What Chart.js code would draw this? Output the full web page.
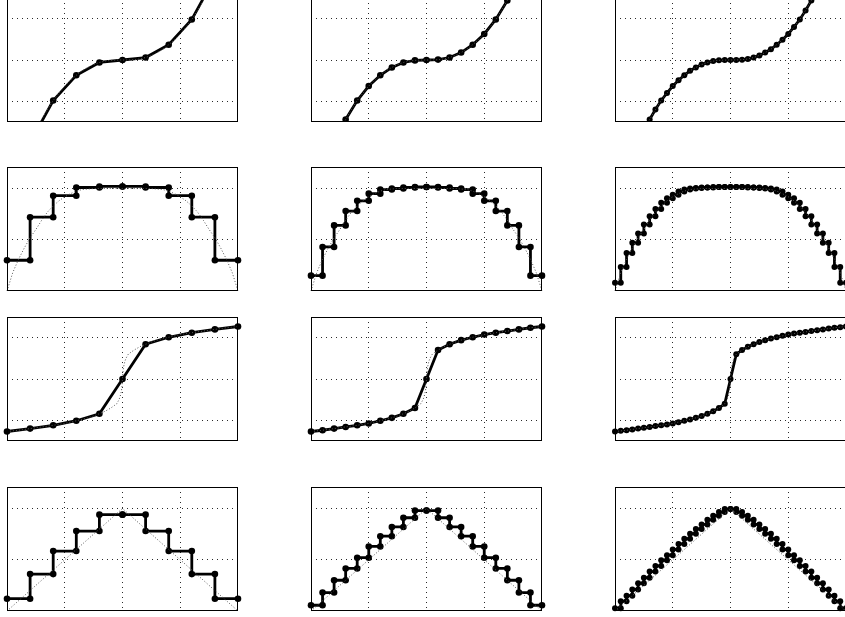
<!DOCTYPE html>
<html>
<head>
<meta charset="utf-8">
<script src="https://cdn.jsdelivr.net/npm/chart.js@4.4.1/dist/chart.umd.min.js"></script>
<style>
  html, body { margin: 0; padding: 0; background: #fff; overflow: hidden; }
  body { width: 845px; height: 617px; position: relative; }
  canvas { position: absolute; }
</style>
</head>
<body>
<script>
// ── Sample positions per column (11, 21 and 41 samples on [-1, 1]) ──
const X_C1 = [-1, -0.8, -0.6, -0.4, -0.2, 0, 0.2, 0.4, 0.6, 0.8, 1];
const X_C2 = [-1, -0.9, -0.8, -0.7, -0.6, -0.5, -0.4, -0.3, -0.2, -0.1, 0,
              0.1, 0.2, 0.3, 0.4, 0.5, 0.6, 0.7, 0.8, 0.9, 1];
const X_C3 = [-1, -0.95, -0.9, -0.85, -0.8, -0.75, -0.7, -0.65, -0.6, -0.55, -0.5,
              -0.45, -0.4, -0.35, -0.3, -0.25, -0.2, -0.15, -0.1, -0.05, 0,
              0.05, 0.1, 0.15, 0.2, 0.25, 0.3, 0.35, 0.4, 0.45, 0.5,
              0.55, 0.6, 0.65, 0.7, 0.75, 0.8, 0.85, 0.9, 0.95, 1];

// ── Row 1: expander curve (values beyond ±1.5 run off the axes) ──
const EXP_C1 = [-4.0, -2.0, -0.98, -0.37, -0.06, 0, 0.06, 0.37, 0.98, 2.0, 4.0];
const EXP_C2 = [-4.0, -2.8, -2.0, -1.44, -0.98, -0.63, -0.37, -0.18, -0.06, -0.01, 0,
                0.01, 0.06, 0.18, 0.37, 0.63, 0.98, 1.44, 2.0, 2.8, 4.0];
const EXP_C3 = [-4.0, -3.35, -2.8, -2.38, -2.0, -1.71, -1.44, -1.2, -0.98, -0.8, -0.63,
                -0.49, -0.37, -0.26, -0.18, -0.11, -0.06, -0.025, -0.008, -0.001, 0,
                0.001, 0.008, 0.025, 0.06, 0.11, 0.18, 0.26, 0.37, 0.49, 0.63,
                0.8, 0.98, 1.2, 1.44, 1.71, 2.0, 2.38, 2.8, 3.35, 4.0];

// ── Row 2: quantized arch, one level per interval ──
const SEMI_C1 = [0.30, 0.72, 0.93, 1.01, 1.02, 1.02, 1.01, 0.93, 0.72, 0.30];
const SEMI_C2 = [0.15, 0.43, 0.64, 0.78, 0.88, 0.95, 0.99, 1.0, 1.01, 1.015,
                 1.015, 1.01, 1.0, 0.99, 0.95, 0.88, 0.78, 0.64, 0.43, 0.15];
const SEMI_C3 = [0.08, 0.235, 0.37, 0.47, 0.56, 0.65, 0.73, 0.80, 0.86, 0.905,
                 0.94, 0.97, 0.99, 1.0, 1.005, 1.01, 1.01, 1.015, 1.015, 1.015,
                 1.015, 1.015, 1.015, 1.01, 1.01, 1.005, 1.0, 0.99, 0.97, 0.94,
                 0.905, 0.86, 0.80, 0.73, 0.65, 0.56, 0.47, 0.37, 0.235, 0.08];
const SEMI_REF = [0, 0.18, 0.31, 0.42, 0.52, 0.60, 0.69, 0.77, 0.83, 0.88, 0.92, 0.95, 0.975, 0.99, 0.995,
                  1, 1, 1, 1, 1, 1, 1, 1, 1, 1, 1,
                  0.995, 0.99, 0.975, 0.95, 0.92, 0.88, 0.83, 0.77, 0.69, 0.60, 0.52, 0.42, 0.31, 0.18, 0];

// ── Row 3: compressor curve ──
const COMP_C1 = [-1.27, -1.20, -1.12, -1.01, -0.84, 0, 0.84, 1.01, 1.12, 1.20, 1.27];
const COMP_C2 = [-1.27, -1.24, -1.20, -1.16, -1.12, -1.075, -1.01, -0.94, -0.84, -0.70, 0,
                 0.70, 0.84, 0.94, 1.01, 1.075, 1.12, 1.16, 1.20, 1.24, 1.27];
const COMP_C3 = [-1.27, -1.255, -1.24, -1.22, -1.20, -1.18, -1.16, -1.14, -1.12, -1.10, -1.075,
                 -1.045, -1.01, -0.98, -0.94, -0.895, -0.84, -0.78, -0.70, -0.60, 0,
                 0.60, 0.70, 0.78, 0.84, 0.895, 0.94, 0.98, 1.01, 1.045, 1.075,
                 1.10, 1.12, 1.14, 1.16, 1.18, 1.20, 1.22, 1.24, 1.255, 1.27];
const COMP_REF_X = [-1, -0.9, -0.8, -0.7, -0.6, -0.5, -0.4, -0.3, -0.25, -0.2, -0.15, -0.1,
                    -0.075, -0.05, -0.03, -0.02, -0.01, -0.005, 0, 0.005, 0.01, 0.02, 0.03, 0.05, 0.075,
                    0.1, 0.15, 0.2, 0.25, 0.3, 0.4, 0.5, 0.6, 0.7, 0.8, 0.9, 1];
const COMP_REF_Y = [-1.27, -1.24, -1.20, -1.16, -1.12, -1.075, -1.01, -0.94, -0.895, -0.84, -0.78, -0.70,
                    -0.65, -0.60, -0.50, -0.42, -0.30, -0.20, 0, 0.20, 0.30, 0.42, 0.50, 0.60, 0.65,
                    0.70, 0.78, 0.84, 0.895, 0.94, 1.01, 1.075, 1.12, 1.16, 1.20, 1.24, 1.27];

// ── Row 4: quantized triangle ──
const TRI_C1 = [0.12, 0.36, 0.585, 0.78, 0.94, 0.94, 0.78, 0.585, 0.36, 0.12];
const TRI_C2 = [0.056, 0.18, 0.30, 0.415, 0.52, 0.63, 0.73, 0.82, 0.91, 0.98,
                0.98, 0.91, 0.82, 0.73, 0.63, 0.52, 0.415, 0.30, 0.18, 0.056];
const TRI_C3 = [0.028, 0.095, 0.15, 0.21, 0.27, 0.325, 0.385, 0.44, 0.495, 0.545,
                0.60, 0.655, 0.705, 0.755, 0.80, 0.845, 0.89, 0.93, 0.965, 0.995,
                0.995, 0.965, 0.93, 0.89, 0.845, 0.80, 0.755, 0.705, 0.655, 0.60,
                0.545, 0.495, 0.44, 0.385, 0.325, 0.27, 0.21, 0.15, 0.095, 0.028];
const TRI_REF_X = [-1, 0, 1];
const TRI_REF_Y = [0, 1, 0];

// ── Grid ticks ──
const X_GRID     = [-0.5, 0, 0.5];
const Y_GRID_SYM = [-1, 0, 1];
const Y_GRID_POS = [0.5, 1];

// ── Layout (plot-area boxes in page pixels) ──
const COL_LEFT = [7, 311, 615];
const ROW_TOP  = [-2, 167, 317, 487];
const AREA_W = 231, AREA_H = 124, PAD = 6;

const asPoints = (xs, ys) => xs.map((x, i) => ({ x, y: ys[i] }));
// stairs: every corner becomes a vertex, so each one gets a marker
const asStairs = (xs, levels) => {
  const pts = [];
  levels.forEach((v, i) => { pts.push({ x: xs[i], y: v }, { x: xs[i + 1], y: v }); });
  return pts;
};

const ROWS = [
  { ymin: -1.5, ymax: 1.5,  yGrid: Y_GRID_SYM, ref: asPoints(X_C3, EXP_C3),
    series: [asPoints(X_C1, EXP_C1), asPoints(X_C2, EXP_C2), asPoints(X_C3, EXP_C3)],
    clip: { left: 6, right: 6, top: 0, bottom: 0 } },
  { ymin: 0, ymax: 1.21, yGrid: Y_GRID_POS, ref: asPoints(X_C3, SEMI_REF),
    series: [asStairs(X_C1, SEMI_C1), asStairs(X_C2, SEMI_C2), asStairs(X_C3, SEMI_C3)], clip: 6 },
  { ymin: -1.5, ymax: 1.5,  yGrid: Y_GRID_SYM, ref: asPoints(COMP_REF_X, COMP_REF_Y),
    series: [asPoints(X_C1, COMP_C1), asPoints(X_C2, COMP_C2), asPoints(X_C3, COMP_C3)], clip: 6 },
  { ymin: 0, ymax: 1.21, yGrid: Y_GRID_POS, ref: asPoints(TRI_REF_X, TRI_REF_Y),
    series: [asStairs(X_C1, TRI_C1), asStairs(X_C2, TRI_C2), asStairs(X_C3, TRI_C3)], clip: 6 }
];

// ── Axes box drawn on top, like the MATLAB frame ──
const boxPlugin = {
  id: 'box',
  afterDraw(chart) {
    const { ctx, chartArea: a } = chart;
    ctx.save();
    ctx.strokeStyle = '#000';
    ctx.lineWidth = 1;
    ctx.strokeRect(Math.round(a.left) + 0.5, Math.round(a.top) + 0.5,
                   Math.round(a.right - a.left) - 1, Math.round(a.bottom - a.top) - 1);
    ctx.restore();
  }
};

const gridAxis = (min, max, ticks) => ({
  type: 'linear', min, max,
  afterBuildTicks: axis => { axis.ticks = ticks.map(v => ({ value: v })); },
  ticks: { display: false },
  grid: { color: '#2a2a2a', lineWidth: 1, drawTicks: false },
  border: { display: false, dash: [1, 4] }
});

ROWS.forEach((row, r) => {
  row.series.forEach((data, c) => {
    const cv = document.createElement('canvas');
    cv.width = AREA_W + 2 * PAD;
    cv.height = AREA_H + 2 * PAD;
    cv.style.left = (COL_LEFT[c] - PAD) + 'px';
    cv.style.top = (ROW_TOP[r] - PAD) + 'px';
    document.body.appendChild(cv);

    new Chart(cv.getContext('2d'), {
      type: 'line',
      data: {
        datasets: [
          {
            data: row.ref,
            borderColor: '#555',
            borderWidth: 1,
            borderDash: [1, 2],
            pointRadius: 0,
            tension: 0,
            clip: row.clip
          },
          {
            data,
            borderColor: '#000',
            borderWidth: 2.8,
            backgroundColor: '#000',
            pointRadius: c === 2 ? 3 : 3.3,
            pointBorderWidth: 0,
            pointBackgroundColor: '#000',
            tension: 0,
            clip: row.clip
          }
        ]
      },
      options: {
        responsive: false,
        animation: false,
        devicePixelRatio: 1,
        events: [],
        layout: { padding: PAD },
        plugins: { legend: { display: false }, tooltip: { enabled: false } },
        scales: {
          x: gridAxis(-1, 1, X_GRID),
          y: gridAxis(row.ymin, row.ymax, row.yGrid)
        }
      },
      plugins: [boxPlugin]
    });
  });
});
</script>
</body>
</html>
